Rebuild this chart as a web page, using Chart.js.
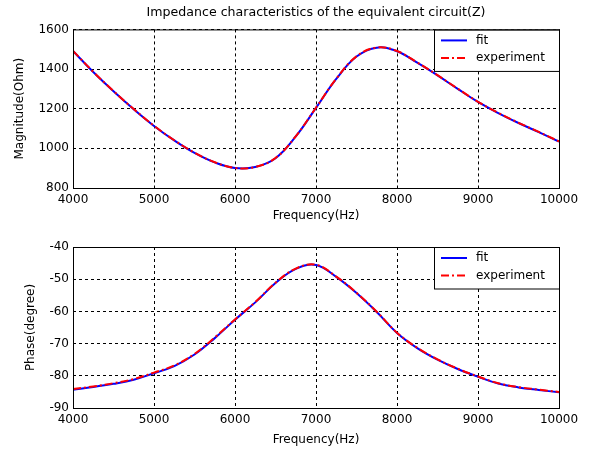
<!DOCTYPE html>
<html>
<head>
<meta charset="utf-8">
<script src="https://cdn.jsdelivr.net/npm/chart.js@4.4.0/dist/chart.umd.min.js"></script>
<style>
 html,body{margin:0;padding:0;background:#fff;}
 #wrap{position:relative;width:592px;height:449px;}
 #magChart{position:absolute;left:0;top:0;}
 #phaseChart{position:absolute;left:0;top:225px;}
</style>
</head>
<body>
<div id="wrap">
 <canvas id="magChart" width="592" height="225"></canvas>
 <canvas id="phaseChart" width="592" height="224"></canvas>
</div>
<script>
// frequency samples (Hz)
const freq=[4000,4250,4500,4750,5000,5250,5500,5750,6000,6250,6500,6750,7000,
 7250,7500,7750,8000,8250,8500,8750,9000,9250,9500,9750,10000];

// magnitude (Ohm)
const magFit=[1491,1385,1288,1197,1113,1040,977,929,901,906,950,1060,1204,
 1350,1463,1508,1490,1432,1368,1300,1234,1178,1128,1082,1034];
const magExp=[1492,1386,1289,1198,1114,1041,978,930,901,906,951,1061,1205,
 1351,1464,1509,1491,1433,1369,1301,1235,1179,1129,1083,1035];

// phase (degree)
const phaseFit=[-84.3,-83.5,-82.5,-81.2,-79.2,-77.0,-73.4,-68.3,-62.6,-57.2,-51.2,-46.8,-45.6,
 -49.3,-54.3,-60.2,-66.7,-71.4,-75.0,-77.9,-80.3,-82.4,-83.6,-84.4,-85.1];
const phaseExp=[-84.1,-83.3,-82.3,-81.0,-79.0,-76.8,-73.2,-68.1,-62.5,-57.1,-51.1,-46.7,-45.5,
 -49.2,-54.2,-60.1,-66.6,-71.3,-74.9,-77.8,-80.2,-82.3,-83.5,-84.3,-85.0];

const freqTicks=[4000,5000,6000,7000,8000,9000,10000];
const magTicks=[800,1000,1200,1400,1600];
const phaseTicks=[-90,-80,-70,-60,-50,-40];
const seriesLabels=['fit','experiment'];

Chart.defaults.font.family='"DejaVu Sans", sans-serif';
Chart.defaults.font.size=12;
Chart.defaults.color='#000';

// black box round the plot area + matlab style legend in the top right corner
const boxAndLegend={
 id:'boxAndLegend',
 afterDatasetsDraw(chart){
  const {ctx,chartArea:a}=chart;
  const w=125,h=41.5,x=a.right-w,y=a.top;
  ctx.save();
  ctx.fillStyle='#fff';
  ctx.fillRect(x,y,w,h);
  ctx.strokeStyle='#000';
  ctx.lineWidth=1;
  ctx.strokeRect(x+0.5,y+0.5,w,h);
  ctx.font='12px "DejaVu Sans", sans-serif';
  ctx.textBaseline='middle';
  chart.data.datasets.forEach((ds,i)=>{
   const ly=y+11+i*17.5;
   ctx.beginPath();
   ctx.strokeStyle=ds.borderColor;
   ctx.lineWidth=2;
   ctx.setLineDash(ds.borderDash||[]);
   ctx.moveTo(x+7,ly);
   ctx.lineTo(x+33,ly);
   ctx.stroke();
   ctx.setLineDash([]);
   ctx.fillStyle='#000';
   ctx.fillText(ds.label,x+42,ly);
  });
  ctx.strokeStyle='#000';
  ctx.lineWidth=1;
  ctx.strokeRect(a.left+0.5,a.top+0.5,a.right-a.left,a.bottom-a.top);
  ctx.restore();
 }
};

function makeScales(yTicks,yTitle,yTitlePad,xHeight){
 return {
  x:{type:'linear',min:4000,max:10000,
   afterBuildTicks:s=>{s.ticks=freqTicks.map(v=>({value:v}));},
   afterFit:s=>{s.height=xHeight;},
   ticks:{padding:5,maxRotation:0,autoSkip:false,callback:v=>String(v)},
   grid:{color:'#000',drawTicks:false,borderDash:[3,3]},
   border:{display:false,dash:[3,3]},
   title:{display:true,text:'Frequency(Hz)',padding:{top:0,bottom:2}}},
  y:{min:yTicks[0],max:yTicks[yTicks.length-1],
   afterBuildTicks:s=>{s.ticks=yTicks.map(v=>({value:v}));},
   afterFit:s=>{s.width=73;},
   ticks:{padding:4,autoSkip:false,callback:v=>String(v)},
   grid:{color:'#000',drawTicks:false,borderDash:[3,3]},
   border:{display:false,dash:[3,3]},
   title:{display:true,text:yTitle,padding:{top:yTitlePad,bottom:0}}}
 };
}

function makeSets(fit,exp){
 return [
  {label:seriesLabels[0],data:freq.map((f,i)=>({x:f,y:fit[i]})),borderColor:'#0000ff',
   borderWidth:2,pointRadius:0,tension:0.4,fill:false,order:1},
  {label:seriesLabels[1],data:freq.map((f,i)=>({x:f,y:exp[i]})),borderColor:'#ff0000',
   borderWidth:2,borderDash:[8,3,2,3],pointRadius:0,tension:0.4,fill:false,order:0}
 ];
}

new Chart(document.getElementById('magChart'),{
 type:'line',
 data:{datasets:makeSets(magFit,magExp)},
 options:{responsive:false,animation:false,events:[],
  layout:{padding:{left:0,right:33,top:0,bottom:0}},
  plugins:{legend:{display:false},tooltip:{enabled:false},
   title:{display:true,fullSize:false,text:'Impedance characteristics of the equivalent circuit(Z)',
    font:{weight:'normal',size:12.6},padding:{top:5,bottom:9.3}}},
  scales:makeScales(magTicks,'Magnitude(Ohm)',13,37)},
 plugins:[boxAndLegend]
});

new Chart(document.getElementById('phaseChart'),{
 type:'line',
 data:{datasets:makeSets(phaseFit,phaseExp)},
 options:{responsive:false,animation:false,events:[],
  layout:{padding:{left:0,right:33,top:22,bottom:0}},
  plugins:{legend:{display:false},tooltip:{enabled:false}},
  scales:makeScales(phaseTicks,'Phase(degree)',24,41)},
 plugins:[boxAndLegend]
});
</script>
</body>
</html>
